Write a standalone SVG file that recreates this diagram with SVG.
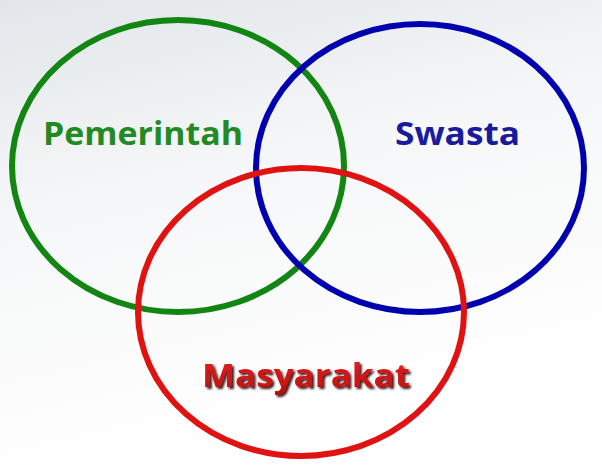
<svg xmlns="http://www.w3.org/2000/svg" width="602" height="465" viewBox="0 0 602 465">
<defs>
<linearGradient id="bg" x1="0" y1="0" x2="0.3" y2="1">
<stop offset="0" stop-color="#e2e6ea"/>
<stop offset="0.45" stop-color="#f6f7f8"/>
<stop offset="1" stop-color="#ffffff"/>
</linearGradient>
<linearGradient id="redtxt" x1="0" y1="0" x2="0" y2="1">
<stop offset="0" stop-color="#ec2222"/>
<stop offset="1" stop-color="#b80c0c"/>
</linearGradient>
<filter id="shadow" x="-5%" y="-20%" width="115%" height="150%">
<feDropShadow dx="2" dy="2" stdDeviation="0.8" flood-color="#2a0505" flood-opacity="0.9"/>
</filter>
<style>
.ring{fill:none;stroke-width:6}
.lbl{font-family:"Open Sans","Noto Sans","Liberation Sans",sans-serif;font-weight:bold;font-size:33px}
</style>
</defs>
<rect width="602" height="465" fill="url(#bg)"/>
<g id="pemerintah">
<ellipse class="ring" cx="178" cy="166" rx="166" ry="146" stroke="#138513"/>
<text class="lbl" x="43" y="145" textLength="200" lengthAdjust="spacingAndGlyphs" fill="#238a23">Pemerintah</text>
</g>
<g id="swasta">
<ellipse class="ring" cx="420" cy="168" rx="164" ry="144" stroke="#0000b0"/>
<text class="lbl" x="395" y="145" textLength="125" lengthAdjust="spacingAndGlyphs" fill="#1a1a9c">Swasta</text>
</g>
<g id="masyarakat">
<ellipse class="ring" cx="301" cy="312" rx="163" ry="144" stroke="#e01212"/>
<text class="lbl" x="202" y="387" textLength="208" lengthAdjust="spacingAndGlyphs" fill="url(#redtxt)" filter="url(#shadow)">Masyarakat</text>
</g>
<g id="connectors"/>
</svg>
